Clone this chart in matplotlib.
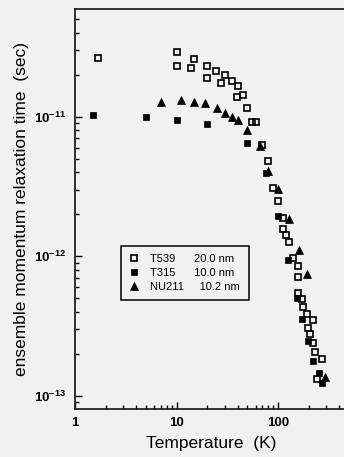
import matplotlib
matplotlib.use('Agg')
import matplotlib.pyplot as plt
from matplotlib.ticker import LogLocator, FixedLocator, FixedFormatter, NullFormatter

plt.rcParams['font.family'] = ['Liberation Sans', 'DejaVu Sans']
plt.rcParams['mathtext.fontset'] = 'custom'
plt.rcParams['mathtext.rm'] = 'Liberation Sans'
plt.rcParams['mathtext.bf'] = 'Liberation Sans:bold'

# T539 20.0 nm (open squares)
t539_T = [1.70, 10.1, 10.1, 14.9, 13.8, 20.0, 20.0, 24.7, 27.6, 30.3, 35.0, 40.1, 39.0,
          45.2, 49.5, 55.5, 60.3, 70.0, 80.3, 89.9, 99.3, 113, 113, 121, 129, 140, 156,
          158, 158, 171, 178, 192, 223, 199, 207, 223, 232, 271, 241]
t539_tau = [2.65e-11, 2.89e-11, 2.30e-11, 2.58e-11, 2.24e-11, 2.30e-11, 1.88e-11, 2.13e-11,
            1.74e-11, 2.00e-11, 1.79e-11, 1.65e-11, 1.39e-11, 1.42e-11, 1.15e-11, 9.1e-12,
            9.2e-12, 6.23e-12, 4.78e-12, 3.11e-12, 2.51e-12, 1.88e-12, 1.57e-12, 1.43e-12,
            1.26e-12, 9.8e-13, 8.55e-13, 7.17e-13, 5.45e-13, 4.96e-13, 4.32e-13, 3.87e-13,
            3.51e-13, 3.06e-13, 2.78e-13, 2.41e-13, 2.08e-13, 1.85e-13, 1.32e-13]

# T315 10.0 nm (filled squares)
t315_T = [1.49, 5.0, 10.1, 20.0, 49.5, 75.6, 99.3, 125, 153, 171, 199, 223, 255, 271]
t315_tau = [1.02e-11, 9.9e-12, 9.4e-12, 8.8e-12, 6.48e-12, 3.92e-12, 1.93e-12, 9.4e-13,
            5.01e-13, 3.55e-13, 2.48e-13, 1.78e-13, 1.47e-13, 1.23e-13]

# NU211 10.2 nm (filled triangles)
nu211_T = [6.99, 11.0, 15.0, 18.9, 25.0, 30.0, 35.0, 40.1, 49.5, 66.9, 80.3, 99.3, 129,
           162, 192, 290]
nu211_tau = [1.27e-11, 1.31e-11, 1.27e-11, 1.25e-11, 1.15e-11, 1.07e-11, 9.9e-12, 9.4e-12,
             8.07e-12, 6.12e-12, 4.06e-12, 3.03e-12, 1.86e-12, 1.11e-12, 7.45e-13, 1.37e-13]

labels = ['T539      20.0 nm', 'T315      10.0 nm', 'NU211     10.2 nm']

bg = '#f1f1f1'
fig = plt.figure(figsize=(3.44, 4.57), dpi=100, facecolor=bg)
ax = fig.add_axes([75 / 344, 48 / 457, 272 / 344, 400 / 457], facecolor=bg)

ax.plot(t539_T, t539_tau, 's', ms=4.2, mfc='none', mec='black', mew=1.2, label=labels[0])
ax.plot(t315_T, t315_tau, 's', ms=4.8, mfc='black', mec='black', mew=0.5, label=labels[1])
ax.plot(nu211_T, nu211_tau, '^', ms=5.2, mfc='black', mec='black', mew=0.5, label=labels[2])

ax.set_xscale('log')
ax.set_yscale('log')
ax.set_xlim(1, 478)
ax.set_ylim(8.07e-14, 5.9e-11)

ax.xaxis.set_major_locator(FixedLocator([1, 10, 100]))
ax.xaxis.set_major_formatter(FixedFormatter(['1', '10', '100']))
ax.xaxis.set_minor_locator(LogLocator(base=10, subs=range(2, 10)))
ax.xaxis.set_minor_formatter(NullFormatter())
ax.yaxis.set_major_locator(FixedLocator([1e-13, 1e-12, 1e-11]))
ax.yaxis.set_major_formatter(FixedFormatter([r'$\mathbf{10^{-13}}$', r'$\mathbf{10^{-12}}$',
                                             r'$\mathbf{10^{-11}}$']))
ax.yaxis.set_minor_locator(LogLocator(base=10, subs=range(2, 10)))
ax.yaxis.set_minor_formatter(NullFormatter())

ax.tick_params(which='both', direction='in', top=False, right=False, width=1, color='black')
ax.tick_params(which='major', length=5, labelsize=9.5, pad=6)
ax.tick_params(which='minor', length=3)
for lab in ax.get_xticklabels():
    lab.set_fontweight('bold')

for s in ax.spines.values():
    s.set_linewidth(1.3)
    s.set_color('#222222')

ax.set_xlabel('Temperature  (K)', fontsize=12.5, labelpad=5)
ax.set_ylabel('ensemble momentum relaxation time  (sec)', fontsize=12.5, labelpad=4)

leg = ax.legend(loc='upper left', bbox_to_anchor=(46 / 272, 0.4075), fontsize=8,
                frameon=True, fancybox=False, edgecolor='black', facecolor=bg,
                framealpha=1, handlelength=0.8, handletextpad=1.1, borderpad=0.75,
                labelspacing=0.35, borderaxespad=0)
leg.get_frame().set_linewidth(1.1)

fig.savefig('out.png', dpi=100, facecolor=bg)
